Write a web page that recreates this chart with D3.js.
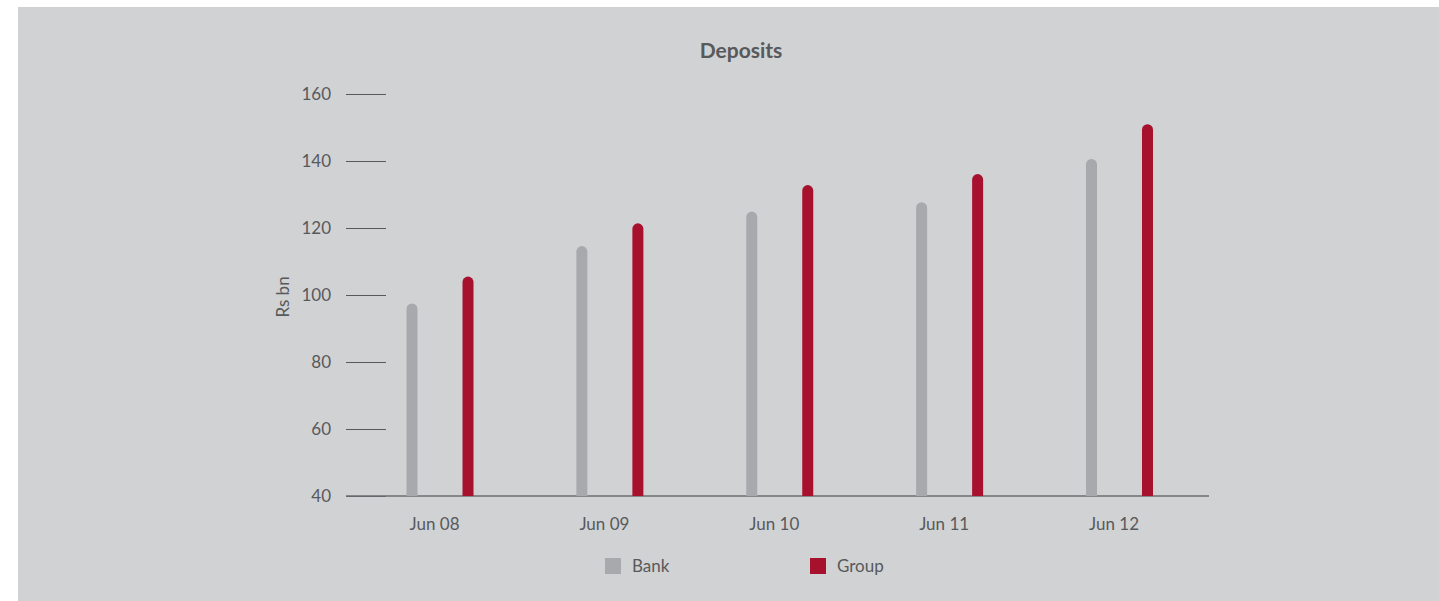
<!DOCTYPE html>
<html>
<head>
<meta charset="utf-8">
<script src="https://cdn.jsdelivr.net/npm/d3@7/dist/d3.min.js"></script>
<style>
html,body{margin:0;padding:0;background:#fff;}
svg{display:block;}
text{font-family:Lato, "Open Sans", sans-serif;fill:#58595b;}
</style>
</head>
<body>
<svg id="chart" width="1439" height="601"></svg>
<script>
const categories = ["Jun 08","Jun 09","Jun 10","Jun 11","Jun 12"];
const bankValues = [97.5, 114.6, 124.9, 127.7, 140.6];
const groupValues = [105.5, 121.4, 132.8, 136.1, 151.0];
const yTicks = [40, 60, 80, 100, 120, 140, 160];
const seriesNames = ["Bank","Group"];
const seriesColors = ["#a7a9ac","#a8112e"];
const titleText = "Deposits";
const yLabel = "Rs bn";

const svg = d3.select("#chart");
svg.append("rect").attr("x",18).attr("y",7).attr("width",1421).attr("height",594).attr("fill","#d1d2d4");

const y = d3.scaleLinear().domain([40,160]).range([496,94]);
const x = d3.scalePoint().domain(categories).range([440,1119.5]);
const offset = 28, barW = 11;

// title
svg.append("text").attr("x",741).attr("y",58).attr("text-anchor","middle")
  .style("font-weight","bold").style("font-size","21px").text(titleText);

// y axis
const yAxis = d3.axisLeft(y).tickValues(yTicks).tickSize(40).tickPadding(15);
const gy = svg.append("g").attr("transform","translate(386,0)").call(yAxis);
gy.select(".domain").remove();
gy.selectAll(".tick line").attr("stroke","#58595b").attr("stroke-width",1.2);
gy.selectAll(".tick text").style("font-size","17px").attr("fill","#58595b").attr("dy","0.35em");

// baseline
svg.append("line").attr("x1",346).attr("x2",1209).attr("y1",y(40)).attr("y2",y(40))
  .attr("stroke","#6d6e70").attr("stroke-width",1.5);

// y label
svg.append("text").attr("transform","translate(289,297) rotate(-90)").attr("text-anchor","middle")
  .style("font-size","17px").text(yLabel);

// bars with rounded tops
function barPath(cx, v){
  const r = barW/2, x0 = cx - r, x1 = cx + r, yb = y(40), yt = y(v);
  return `M${x0},${yb} L${x0},${yt+r} A${r},${r} 0 0 1 ${x1},${yt+r} L${x1},${yb} Z`;
}
const series = [bankValues, groupValues];
series.forEach((vals, si) => {
  svg.append("g").selectAll("path").data(categories).join("path")
    .attr("d", (c,i) => barPath(x(c) + (si===0 ? -offset : offset), vals[i]))
    .attr("fill", seriesColors[si]);
});

// x axis labels
const xAxis = d3.axisBottom(x).tickSize(0).tickPadding(0);
const gx = svg.append("g").attr("transform",`translate(-6,${y(40)+22})`).call(xAxis);
gx.select(".domain").remove();
gx.selectAll(".tick text").style("font-size","17px").attr("fill","#58595b").attr("dy","0.71em");

// legend
const legendX = [605, 810];
seriesNames.forEach((n,i)=>{
  svg.append("rect").attr("x",legendX[i]).attr("y",558).attr("width",16).attr("height",16).attr("fill",seriesColors[i]);
  svg.append("text").attr("x",legendX[i]+27).attr("y",566).attr("dy","0.35em").style("font-size","17px").text(n);
});
</script>
</body>
</html>
